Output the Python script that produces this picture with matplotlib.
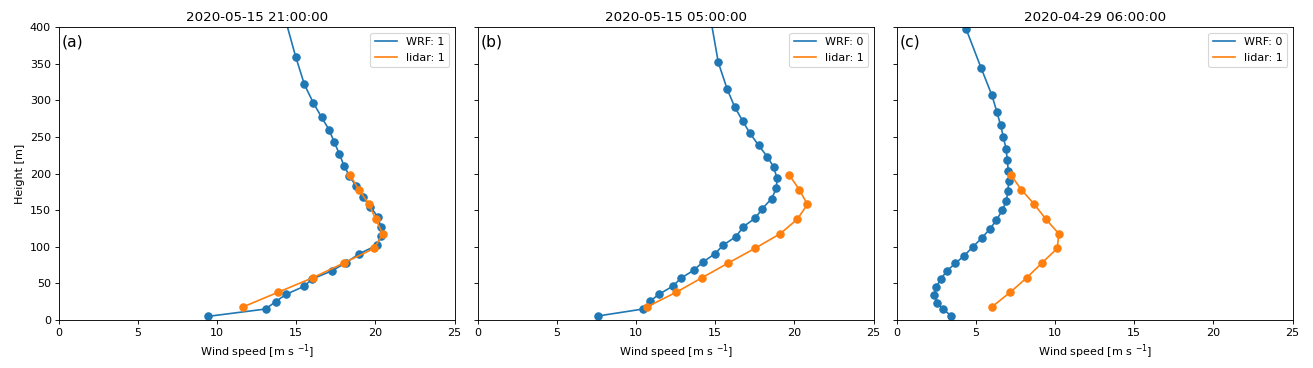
import matplotlib
matplotlib.use("Agg")
import matplotlib.pyplot as plt

titles = ["2020-05-15 21:00:00", "2020-05-15 05:00:00", "2020-04-29 06:00:00"]
panel_labels = ["(a)", "(b)", "(c)"]
wrf_flags = [1, 0, 0]
lidar_flags = [1, 1, 1]

# WRF profiles
wrf_a_h = [5, 15, 25, 35, 46, 56, 67, 78, 90.6, 102, 115, 127.5, 141, 155, 168, 183, 197, 211,
           227, 243, 260, 277, 297, 322, 360, 420]
wrf_a_ws = [9.44, 13.06, 13.69, 14.35, 15.49, 16.0, 17.23, 18.12, 18.98, 20.08, 20.35, 20.35,
            20.14, 19.68, 19.21, 18.77, 18.35, 18.01, 17.72, 17.40, 17.07, 16.60, 16.07, 15.51,
            14.96, 14.19]

wrf_b_h = [5.5, 15, 26, 35.5, 46.4, 57, 68, 79, 90.6, 102.5, 114, 127.5, 139, 152, 166, 180,
           193.6, 209, 223, 238.6, 255.5, 272, 291, 315, 352, 420]
wrf_b_ws = [7.59, 10.44, 10.90, 11.47, 12.33, 12.82, 13.64, 14.21, 14.98, 15.51, 16.31, 16.77,
            17.51, 17.97, 18.56, 18.86, 18.90, 18.69, 18.29, 17.74, 17.18, 16.73, 16.23, 15.76,
            15.19, 14.64]

wrf_c_h = [5.5, 14.6, 23.7, 34.6, 45, 56, 67, 77.4, 88, 100, 112, 124, 136.6, 150, 163, 176.6,
           189.5, 203.6, 218.6, 234, 250, 266, 283.7, 307, 344.7, 397, 455]
wrf_c_ws = [3.44, 2.94, 2.54, 2.37, 2.48, 2.79, 3.15, 3.70, 4.26, 4.81, 5.36, 5.87, 6.29, 6.67,
            6.92, 7.02, 7.07, 7.04, 6.98, 6.90, 6.73, 6.56, 6.33, 6.01, 5.32, 4.39, 3.5]

# Lidar profiles
lidar_h = [18, 38, 58, 78, 98, 118, 138, 158, 178, 198]
lidar_a_ws = [11.65, 13.86, 16.07, 18.01, 19.93, 20.46, 20.01, 19.60, 18.96, 18.39]
lidar_b_ws = [10.69, 12.54, 14.18, 15.83, 17.51, 19.11, 20.19, 20.82, 20.31, 19.68]
lidar_c_ws = [6.01, 7.17, 8.22, 9.17, 10.14, 10.23, 9.41, 8.69, 7.87, 7.21]

wrf = [(wrf_a_ws, wrf_a_h), (wrf_b_ws, wrf_b_h), (wrf_c_ws, wrf_c_h)]
lidar = [lidar_a_ws, lidar_b_ws, lidar_c_ws]

DPI = 80
fig = plt.figure(figsize=(1313 / DPI, 368 / DPI), dpi=DPI)
lefts = [58.8, 477.8, 896.8]
W = 395.8
bottom = 1 - 320 / 368
top = 1 - 27.3 / 368
for i in range(3):
    ax = fig.add_axes([lefts[i] / 1313, bottom, W / 1313, top - bottom])
    ws, h = wrf[i]
    ax.plot(ws, h, color="C0", label=f"WRF: {wrf_flags[i]}")
    ax.scatter(ws, h, color="C0", s=44, zorder=2)
    ax.plot(lidar[i], lidar_h, color="C1", label=f"lidar: {lidar_flags[i]}")
    ax.scatter(lidar[i], lidar_h, color="C1", s=44, zorder=3)
    ax.set_xlim(0, 25)
    ax.set_ylim(0, 400)
    ax.set_title(titles[i])
    ax.set_xlabel(r"Wind speed [m s $^{-1}$]")
    ax.text(0.008, 0.975, panel_labels[i], transform=ax.transAxes, fontsize=14,
            ha="left", va="top")
    ax.legend(loc="upper right")
    if i == 0:
        ax.set_ylabel("Height [m]")
    else:
        ax.tick_params(labelleft=False)

fig.savefig("out.png", dpi=DPI)
